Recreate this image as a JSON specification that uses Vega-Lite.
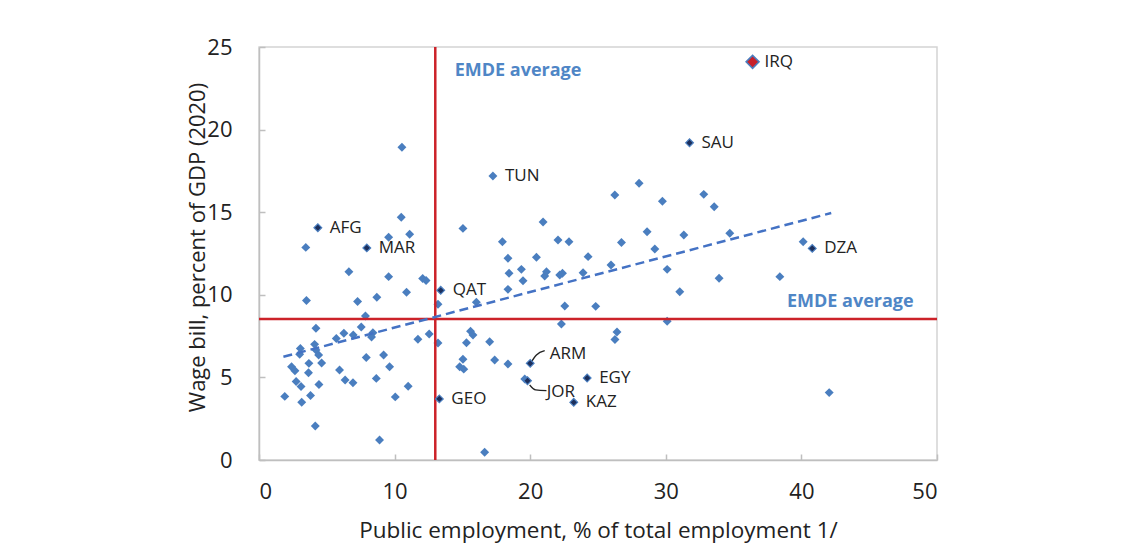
{
  "$schema": "https://vega.github.io/schema/vega-lite/v6.json",
  "width": 678,
  "height": 413,
  "autosize": "none",
  "padding": {"left": 259, "top": 47, "right": 195, "bottom": 100},
  "background": "white",
  "config": {"view": {"stroke": "#d4d4d4", "strokeWidth": 1.5}, "font": "Open Sans"},
  "datasets": {
    "pts": [
      {"x":1.9,"y":3.85,"code":"","kind":"other"},{"x":2.4,"y":5.65,"code":"","kind":"other"},{"x":2.65,"y":5.4,"code":"","kind":"other"},{"x":2.74,"y":4.75,"code":"","kind":"other"},{"x":3.05,"y":6.75,"code":"","kind":"other"},{"x":3.0,"y":6.4,"code":"","kind":"other"},{"x":3.1,"y":4.45,"code":"","kind":"other"},{"x":3.15,"y":3.5,"code":"","kind":"other"},{"x":3.45,"y":12.87,"code":"","kind":"other"},{"x":3.5,"y":9.66,"code":"","kind":"other"},{"x":3.68,"y":5.85,"code":"","kind":"other"},{"x":3.65,"y":5.28,"code":"","kind":"other"},{"x":3.8,"y":3.9,"code":"","kind":"other"},{"x":4.1,"y":7.0,"code":"","kind":"other"},{"x":4.2,"y":6.66,"code":"","kind":"other"},{"x":4.2,"y":7.97,"code":"","kind":"other"},{"x":4.15,"y":2.06,"code":"","kind":"other"},{"x":4.4,"y":6.36,"code":"","kind":"other"},{"x":4.42,"y":4.57,"code":"","kind":"other"},{"x":4.62,"y":5.87,"code":"","kind":"other"},{"x":5.7,"y":7.35,"code":"","kind":"other"},{"x":5.94,"y":5.45,"code":"","kind":"other"},{"x":6.26,"y":7.67,"code":"","kind":"other"},{"x":6.35,"y":4.84,"code":"","kind":"other"},{"x":6.63,"y":11.4,"code":"","kind":"other"},{"x":6.93,"y":4.68,"code":"","kind":"other"},{"x":6.95,"y":7.57,"code":"","kind":"other"},{"x":7.27,"y":9.6,"code":"","kind":"other"},{"x":7.54,"y":8.05,"code":"","kind":"other"},{"x":7.85,"y":8.72,"code":"","kind":"other"},{"x":7.91,"y":6.2,"code":"","kind":"other"},{"x":8.4,"y":7.7,"code":"","kind":"other"},{"x":8.3,"y":7.45,"code":"","kind":"other"},{"x":8.65,"y":4.94,"code":"","kind":"other"},{"x":8.69,"y":9.85,"code":"","kind":"other"},{"x":8.89,"y":1.21,"code":"","kind":"other"},{"x":9.19,"y":6.36,"code":"","kind":"other"},{"x":9.56,"y":13.48,"code":"","kind":"other"},{"x":9.56,"y":11.1,"code":"","kind":"other"},{"x":9.63,"y":5.65,"code":"","kind":"other"},{"x":10.05,"y":3.82,"code":"","kind":"other"},{"x":10.49,"y":14.69,"code":"","kind":"other"},{"x":10.54,"y":18.93,"code":"","kind":"other"},{"x":10.88,"y":10.15,"code":"","kind":"other"},{"x":11.0,"y":4.46,"code":"","kind":"other"},{"x":11.11,"y":13.66,"code":"","kind":"other"},{"x":11.72,"y":7.31,"code":"","kind":"other"},{"x":12.07,"y":10.99,"code":"","kind":"other"},{"x":12.32,"y":10.87,"code":"","kind":"other"},{"x":12.55,"y":7.63,"code":"","kind":"other"},{"x":13.2,"y":9.43,"code":"","kind":"other"},{"x":13.2,"y":7.08,"code":"","kind":"other"},{"x":14.8,"y":5.65,"code":"","kind":"other"},{"x":15.04,"y":6.1,"code":"","kind":"other"},{"x":15.1,"y":5.5,"code":"","kind":"other"},{"x":15.04,"y":14.02,"code":"","kind":"other"},{"x":15.3,"y":7.1,"code":"","kind":"other"},{"x":15.6,"y":7.8,"code":"","kind":"other"},{"x":15.78,"y":7.57,"code":"","kind":"other"},{"x":16.03,"y":9.55,"code":"","kind":"other"},{"x":16.64,"y":0.47,"code":"","kind":"other"},{"x":17.01,"y":7.16,"code":"","kind":"other"},{"x":17.25,"y":17.19,"code":"TUN","kind":"other"},{"x":17.38,"y":6.05,"code":"","kind":"other"},{"x":17.95,"y":13.21,"code":"","kind":"other"},{"x":18.36,"y":12.21,"code":"","kind":"other"},{"x":18.36,"y":10.33,"code":"","kind":"other"},{"x":18.36,"y":5.81,"code":"","kind":"other"},{"x":18.44,"y":11.3,"code":"","kind":"other"},{"x":19.35,"y":11.54,"code":"","kind":"other"},{"x":19.47,"y":10.85,"code":"","kind":"other"},{"x":19.6,"y":4.9,"code":"","kind":"other"},{"x":20.46,"y":12.27,"code":"","kind":"other"},{"x":20.95,"y":14.41,"code":"","kind":"other"},{"x":21.07,"y":11.14,"code":"","kind":"other"},{"x":21.2,"y":11.4,"code":"","kind":"other"},{"x":22.05,"y":13.32,"code":"","kind":"other"},{"x":22.18,"y":11.2,"code":"","kind":"other"},{"x":22.38,"y":11.3,"code":"","kind":"other"},{"x":22.3,"y":8.23,"code":"","kind":"other"},{"x":22.55,"y":9.32,"code":"","kind":"other"},{"x":22.86,"y":13.21,"code":"","kind":"other"},{"x":23.9,"y":11.34,"code":"","kind":"other"},{"x":24.27,"y":12.31,"code":"","kind":"other"},{"x":24.83,"y":9.3,"code":"","kind":"other"},{"x":25.96,"y":11.8,"code":"","kind":"other"},{"x":26.24,"y":16.04,"code":"","kind":"other"},{"x":26.25,"y":7.3,"code":"","kind":"other"},{"x":26.4,"y":7.75,"code":"","kind":"other"},{"x":26.73,"y":13.16,"code":"","kind":"other"},{"x":28.03,"y":16.75,"code":"","kind":"other"},{"x":28.62,"y":13.82,"code":"","kind":"other"},{"x":29.19,"y":12.77,"code":"","kind":"other"},{"x":29.75,"y":15.66,"code":"","kind":"other"},{"x":30.1,"y":11.54,"code":"","kind":"other"},{"x":30.1,"y":8.4,"code":"","kind":"other"},{"x":31.03,"y":10.19,"code":"","kind":"other"},{"x":31.33,"y":13.62,"code":"","kind":"other"},{"x":32.8,"y":16.08,"code":"","kind":"other"},{"x":33.57,"y":15.33,"code":"","kind":"other"},{"x":33.93,"y":11.0,"code":"","kind":"other"},{"x":34.72,"y":13.72,"code":"","kind":"other"},{"x":38.41,"y":11.1,"code":"","kind":"other"},{"x":40.13,"y":13.21,"code":"","kind":"other"},{"x":42.05,"y":4.08,"code":"","kind":"other"},
      {"x":4.34,"y":14.06,"code":"AFG","kind":"highlight"},{"x":7.95,"y":12.84,"code":"MAR","kind":"highlight"},{"x":13.4,"y":10.27,"code":"QAT","kind":"highlight"},{"x":13.3,"y":3.7,"code":"GEO","kind":"highlight"},{"x":31.75,"y":19.2,"code":"SAU","kind":"highlight"},{"x":40.8,"y":12.81,"code":"DZA","kind":"highlight"},{"x":20.0,"y":5.85,"code":"ARM","kind":"highlight"},{"x":19.8,"y":4.8,"code":"JOR","kind":"highlight"},{"x":24.2,"y":4.96,"code":"EGY","kind":"highlight"},{"x":23.21,"y":3.49,"code":"KAZ","kind":"highlight"},
      {"x":36.4,"y":24.1,"code":"IRQ","kind":"IRQ"}
    ],
    "trend": [{"x":1.8,"y":6.25},{"x":42.2,"y":14.95}],
    "avg": [{"x":13.0,"y":8.54}],
    "leaders": [
      {"id":"ARM","seq":1,"x":20.09,"y":5.95},{"id":"ARM","seq":2,"x":20.46,"y":6.36},{"id":"ARM","seq":3,"x":21.07,"y":6.62},
      {"id":"JOR","seq":1,"x":19.96,"y":4.54},{"id":"JOR","seq":2,"x":20.4,"y":4.24},{"id":"JOR","seq":3,"x":21.2,"y":4.2}
    ],
    "notes": [{"x":21.44,"y":6.42,"label":"ARM"},{"x":21.22,"y":4.12,"label":"JOR"}],
    "emde": [{"x":14.43,"y":23.55,"label":"EMDE average"},{"x":38.93,"y":9.56,"label":"EMDE average"}]
  },
  "layer": [
    {
      "data": {"name": "pts"},
      "transform": [{"filter": "datum.kind == 'other'"}],
      "mark": {"type": "point", "shape": "diamond", "filled": true, "size": 80, "color": "#4a7ebf", "opacity": 1},
      "encoding": {
        "x": {"field": "x", "type": "quantitative", "scale": {"domain": [0, 50], "nice": false, "zero": false},
          "axis": {"values": [0,10,20,30,40,50], "grid": false, "tickSize": -6, "tickColor": "#bfbfbf", "domainColor": "#bfbfbf", "domainWidth": 1.5, "tickWidth": 1.5,
            "labelFontSize": 22, "labelColor": "#222", "labelPadding": 27, "title": "Public employment, % of total employment 1/", "titleFontSize": 22.5, "titleFontWeight": "normal", "titleColor": "#222", "titleY": 70, "titleBaseline": "middle"}},
        "y": {"field": "y", "type": "quantitative", "scale": {"domain": [0, 25], "nice": false, "zero": false},
          "axis": {"values": [0,5,10,15,20,25], "grid": false, "tickSize": -6, "tickColor": "#bfbfbf", "domainColor": "#bfbfbf", "domainWidth": 1.5, "tickWidth": 1.5,
            "labelFontSize": 22, "labelColor": "#222", "labelPadding": 33, "title": "Wage bill, percent of GDP (2020)", "titleFontSize": 22, "titleFontWeight": "normal", "titleColor": "#222", "titleX": -62, "titleY": 200, "titleBaseline": "middle", "titleAngle": -90}}
      }
    },
    {
      "data": {"name": "avg"},
      "mark": {"type": "rule", "color": "#cc2229", "strokeWidth": 2.5},
      "encoding": {"x": {"field": "x", "type": "quantitative"}}
    },
    {
      "data": {"name": "avg"},
      "mark": {"type": "rule", "color": "#cc2229", "strokeWidth": 2.5},
      "encoding": {"y": {"field": "y", "type": "quantitative"}}
    },
    {
      "data": {"name": "trend"},
      "mark": {"type": "line", "color": "#4472c4", "strokeWidth": 2.5, "strokeDash": [9, 5]},
      "encoding": {"x": {"field": "x", "type": "quantitative"}, "y": {"field": "y", "type": "quantitative"}}
    },
    {
      "data": {"name": "leaders"},
      "mark": {"type": "line", "color": "#222", "strokeWidth": 1.3, "interpolate": "monotone"},
      "encoding": {"x": {"field": "x", "type": "quantitative"}, "y": {"field": "y", "type": "quantitative"}, "detail": {"field": "id"}, "order": {"field": "seq"}}
    },
    {
      "data": {"name": "pts"},
      "transform": [{"filter": "datum.kind == 'highlight'"}],
      "mark": {"type": "point", "shape": "diamond", "filled": true, "size": 60, "color": "#1c2f5c", "stroke": "#4a7ebf", "strokeWidth": 1.2, "opacity": 1},
      "encoding": {"x": {"field": "x", "type": "quantitative"}, "y": {"field": "y", "type": "quantitative"}}
    },
    {
      "data": {"name": "pts"},
      "transform": [{"filter": "datum.kind == 'IRQ'"}],
      "mark": {"type": "point", "shape": "diamond", "filled": true, "size": 170, "color": "#c8202a", "stroke": "#4a7ebf", "strokeWidth": 1.5, "opacity": 1},
      "encoding": {"x": {"field": "x", "type": "quantitative"}, "y": {"field": "y", "type": "quantitative"}}
    },
    {
      "data": {"name": "pts"},
      "transform": [{"filter": "datum.code != '' && datum.code != 'ARM' && datum.code != 'JOR'"}],
      "mark": {"type": "text", "align": "left", "baseline": "middle", "dx": 12, "fontSize": 17, "color": "#222"},
      "encoding": {"x": {"field": "x", "type": "quantitative"}, "y": {"field": "y", "type": "quantitative"}, "text": {"field": "code"}}
    },
    {
      "data": {"name": "notes"},
      "mark": {"type": "text", "align": "left", "baseline": "middle", "fontSize": 17, "color": "#222"},
      "encoding": {"x": {"field": "x", "type": "quantitative"}, "y": {"field": "y", "type": "quantitative"}, "text": {"field": "label"}}
    },
    {
      "data": {"name": "emde"},
      "mark": {"type": "text", "align": "left", "baseline": "middle", "fontSize": 18, "fontWeight": "bold", "color": "#4f86c6"},
      "encoding": {"x": {"field": "x", "type": "quantitative"}, "y": {"field": "y", "type": "quantitative"}, "text": {"field": "label"}}
    }
  ]
}
